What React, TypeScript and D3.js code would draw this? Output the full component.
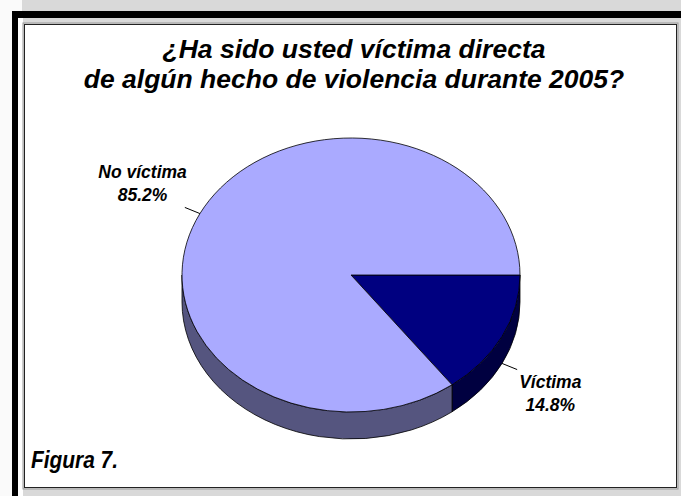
import React, { useEffect, useRef } from 'react';
import * as d3 from 'd3';

const categories = ['Víctima', 'No víctima'];
const values = [14.8, 85.2];
const valueLabels = ['14.8%', '85.2%'];
const topColors = ['#000080', '#aaaaff'];
const sideColors = ['#000040', '#55557f'];
const titleLines = ['¿Ha sido usted víctima directa', 'de algún hecho de violencia durante 2005?'];
const footnote = 'Figura 7.';

const W = 681;
const H = 496;
const FONT = 'Arial, "Liberation Sans", sans-serif';

export default function App() {
  const svgRef = useRef<SVGSVGElement>(null);

  useEffect(() => {
    if (!svgRef.current) return;
    const svg = d3.select(svgRef.current);
    svg.selectAll('*').remove();

    // frame
    svg.append('rect').attr('width', W).attr('height', H).attr('fill', '#d9d9d9');
    svg.append('rect').attr('width', 22).attr('height', H).attr('fill', '#fafafa');
    svg.append('rect').attr('x', 12).attr('y', 11).attr('width', W - 12).attr('height', 7).attr('fill', '#000');
    svg.append('rect').attr('x', 12).attr('y', 11).attr('width', 6).attr('height', H - 11).attr('fill', '#000');
    svg.append('rect').attr('x', 18).attr('y', 18).attr('width', 5).attr('height', H - 18).attr('fill', '#fff');
    svg.append('rect').attr('x', 23).attr('y', 23).attr('width', 655).attr('height', 466).attr('fill', 'none').attr('stroke', '#999');
    svg.append('rect').attr('x', 24.5).attr('y', 24.5).attr('width', 652).attr('height', 463)
      .attr('fill', '#fff').attr('stroke', '#222').attr('stroke-width', 1);

    // title
    const title = svg.append('text')
      .attr('text-anchor', 'middle')
      .attr('font-family', FONT)
      .attr('font-size', 26.5)
      .attr('font-weight', 'bold')
      .attr('font-style', 'italic')
      .attr('fill', '#000');
    titleLines.forEach((t, i) => {
      title.append('tspan').attr('x', 354).attr('y', 58 + i * 30).text(t);
    });

    // footnote, slightly condensed like the original
    svg.append('text')
      .attr('transform', 'translate(31,468) scale(0.87,1)')
      .attr('font-family', FONT)
      .attr('font-size', 24)
      .attr('font-weight', 'bold')
      .attr('font-style', 'italic')
      .text(footnote);

    // 3D pie
    const cx = 351, cy = 275, rx = 169, ry = 137, depth = 27;
    const pie = d3.pie<number>().sort(null).startAngle(Math.PI / 2).endAngle(Math.PI / 2 + 2 * Math.PI);
    const arcs = pie(values);

    const pt = (a: number, dy = 0, k = 1): [number, number] =>
      [cx + k * rx * Math.sin(a), cy - k * ry * Math.cos(a) + dy];

    const g = svg.append('g');

    // sides (front half only: angles between PI/2 and 3PI/2)
    arcs.forEach((d, i) => {
      const a0 = Math.max(d.startAngle, Math.PI / 2);
      const a1 = Math.min(d.endAngle, 1.5 * Math.PI);
      if (a1 <= a0) return;
      const p0 = pt(a0), p1 = pt(a1), q1 = pt(a1, depth), q0 = pt(a0, depth);
      const large = a1 - a0 > Math.PI ? 1 : 0;
      const s = `M${p0[0]},${p0[1]} A${rx},${ry} 0 ${large} 1 ${p1[0]},${p1[1]} L${q1[0]},${q1[1]} A${rx},${ry} 0 ${large} 0 ${q0[0]},${q0[1]} Z`;
      g.append('path').attr('d', s).attr('fill', sideColors[i]).attr('stroke', '#000').attr('stroke-width', 0.8);
    });

    // tops
    arcs.forEach((d, i) => {
      const p0 = pt(d.startAngle), p1 = pt(d.endAngle);
      const large = d.endAngle - d.startAngle > Math.PI ? 1 : 0;
      const s = `M${cx},${cy} L${p0[0]},${p0[1]} A${rx},${ry} 0 ${large} 1 ${p1[0]},${p1[1]} Z`;
      g.append('path').attr('d', s).attr('fill', topColors[i]).attr('stroke', '#000').attr('stroke-width', 0.8);
    });

    // labels with leader lines
    arcs.forEach((d, i) => {
      const mid = (d.startAngle + d.endAngle) / 2;
      const front = -Math.cos(mid) > 0;
      const dy = front ? depth : 0;
      const a = pt(mid, dy);
      const b = pt(mid, dy, 1.1);
      g.append('line').attr('x1', a[0]).attr('y1', a[1]).attr('x2', b[0]).attr('y2', b[1])
        .attr('stroke', '#000').attr('stroke-width', 1);

      const right = Math.sin(mid) > 0;
      const txt = g.append('text')
        .attr('text-anchor', 'middle')
        .attr('font-family', FONT)
        .attr('font-size', 17.5)
        .attr('font-weight', 'bold')
        .attr('font-style', 'italic');
      const l1 = txt.append('tspan').text(categories[i]);
      const l2 = txt.append('tspan').text(valueLabels[i]);
      const w = (l1.node() as SVGTextContentElement).getComputedTextLength();
      const x = right ? b[0] + 2 + w / 2 : b[0] + 2 - w / 2;
      const y1 = front ? b[1] + 18 : b[1] - 29;
      l1.attr('x', x).attr('y', y1);
      l2.attr('x', x).attr('y', y1 + 23);
    });
  }, []);

  return (
    <svg ref={svgRef} width={W} height={H} style={{ position: 'absolute', left: 0, top: 0, display: 'block' }} />
  );
}
